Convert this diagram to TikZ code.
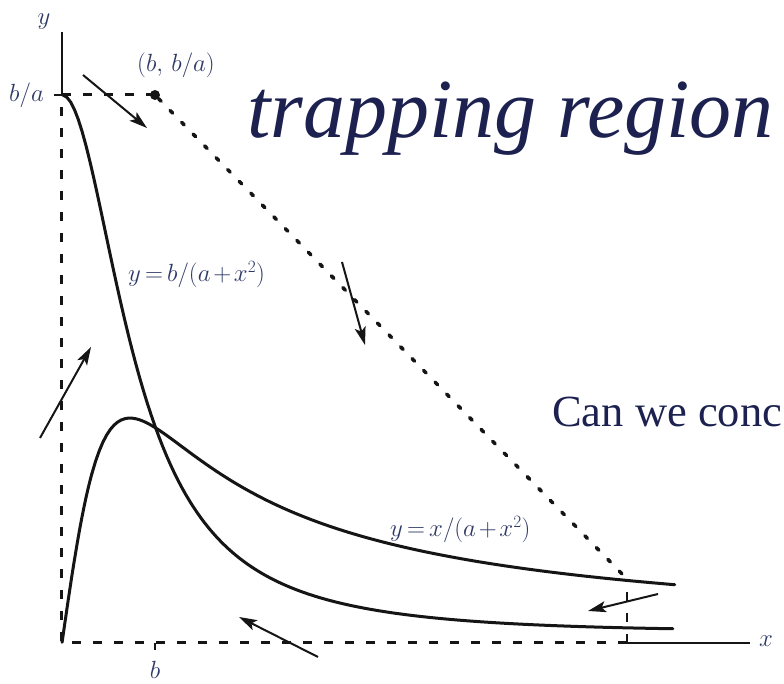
\documentclass[tikz,border=0pt]{standalone}
\usepackage{fontspec}
\setmainfont{Liberation Serif}
\usepackage{tikz}
\usetikzlibrary{arrows.meta}
\definecolor{inkblack}{HTML}{151515}
\definecolor{labelblue}{HTML}{2E3966}
\definecolor{slideblue}{HTML}{1C2150}

\begin{document}
\begin{tikzpicture}[
  x=1pt, y=1pt,
  lbl/.style={text=labelblue, inner sep=0pt, font=\fontsize{27}{29}\selectfont},
  axislbl/.style={lbl, font=\fontsize{44}{46}\selectfont},
  nullcline/.style={draw=inkblack, line width=3pt, line cap=round},
  boundary/.style={draw=inkblack, line width=3pt, dash pattern=on 9pt off 12pt},
  slant/.style={draw=inkblack, line width=3.6pt, line cap=round, dash pattern=on 3.5pt off 13pt},
  axis/.style={draw=inkblack, line width=1.4pt},
  flow/.style={-{Stealth[length=18pt,width=11pt,inset=4pt]}, draw=inkblack, line width=2pt},
  dot/.style={circle, fill=inkblack, inner sep=0pt, minimum size=10pt},
  slide/.style={text=slideblue, inner sep=0pt, anchor=base west}
]
  \useasboundingbox (-62,-41) rectangle (722,643);
  \clip (-62,-41) rectangle (722,643);
  \thickmuskip=3mu \medmuskip=2mu

  % corners of the region
  \coordinate (O) at (0,0);
  \coordinate (ba) at (0,548);
  \coordinate (meet) at (565,64);
  \coordinate (foot) at (565,0);
  \coordinate (xend) at (688,0);
  \coordinate (yend) at (0,611);
  \node[dot] (corner) at (93,548) {};

  % axes and ticks
  \draw[axis] (ba) -- (yend);
  \draw[axis] (foot) -- (xend);
  \draw[axis] (ba) -- ++(-8,0);
  \draw[axis] (93,0) -- ++(0,-7);
  \node[axislbl, anchor=base] (ylab) at (-18,618) {$y$};
  \node[axislbl, anchor=west] (xlab) at (697,2) {$x$};
  \node[lbl, anchor=base east] (balab) at (-18,541) {$b/a$};
  \node[lbl, anchor=base] (blab) at (93,-36) {$b$};
  \node[lbl, anchor=base west] (cornerlab) at (75,571) {$(b,\,b/a)$};

  % trapping region
  \draw[boundary] (corner.center) -- (ba) -- (O) -- (foot);
  \draw[boundary, line width=1.8pt] (foot) -- (meet);
  \draw[slant] (corner) -- (meet);

  % nullclines (u = x/100)
  \draw[nullcline] plot[domain=0.01:6.11, samples=160]
    ({100*\x}, {548/(1+(1.3333*\x)^2) + \x});
  \draw[nullcline] plot[domain=0.001:0.3, samples=60]
    ({100*\x}, {302*\x/(0.4323+pow(\x,1.9))});
  \draw[nullcline] plot[domain=0.3:6.13, samples=160]
    ({100*\x}, {302*\x/(0.4323+pow(\x,1.9))});
  \node[lbl, anchor=base west] (ylow) at (66,361) {$y=b/(a+x^2)$};
  \node[lbl, anchor=base west] (yhigh) at (328,106) {$y=x/(a+x^2)$};

  % flow along the boundary
  \draw[flow] (21,568) -- (85,515);
  \draw[flow] (280,381) -- (303,298);
  \draw[flow] (-22,205) -- (29,296);
  \draw[flow] (256,-14) -- (177,26);
  \draw[flow] (596,49) -- (526,32);

  % slide text
  \node[slide, font=\fontsize{84}{84}\selectfont\itshape] (title) at (185,505) {trapping region};
  \node[slide, font=\fontsize{44.5}{44.5}\selectfont] (question) at (490,216) {Can we conc};
\end{tikzpicture}
\end{document}
